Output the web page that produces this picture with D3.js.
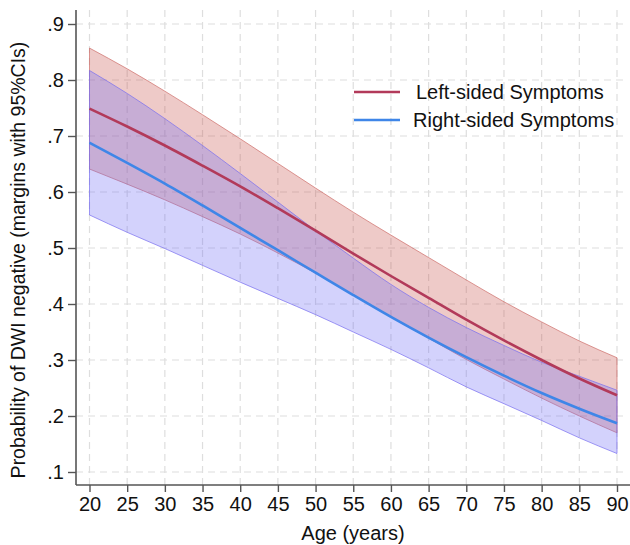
<!DOCTYPE html>
<html><head><meta charset="utf-8">
<script src="https://cdn.jsdelivr.net/npm/d3@7"></script>
<style>body{margin:0;background:#fff}svg{display:block}</style>
</head><body>
<svg id="c" width="630" height="545"></svg>
<script>
const ages = [20,25,30,35,40,45,50,55,60,65,70,75,80,85,90];
const leftMargin = [.749,.717,.683,.647,.610,.571,.531,.490,.450,.411,.372,.335,.300,.267,.237];
const leftUpper  = [.857,.820,.780,.738,.695,.651,.607,.564,.523,.483,.443,.404,.368,.334,.304];
const leftLower  = [.641,.614,.586,.556,.525,.491,.455,.416,.377,.339,.301,.266,.232,.200,.170];
const rightMargin = [.688,.652,.615,.576,.536,.496,.456,.416,.377,.340,.305,.272,.241,.213,.187];
const rightUpper  = [.817,.776,.731,.683,.633,.582,.531,.482,.435,.394,.358,.326,.296,.271,.246];
const rightLower  = [.559,.528,.499,.469,.439,.410,.381,.350,.319,.286,.252,.222,.192,.161,.133];
const yTicks = [.1,.2,.3,.4,.5,.6,.7,.8,.9];
const yTickLabels = [".1",".2",".3",".4",".5",".6",".7",".8",".9"];
const xTicks = ages;
const seriesNames = ["Left-sided Symptoms","Right-sided Symptoms"];
const yTitle = "Probability of DWI negative (margins with 95%CIs)";
const xTitle = "Age (years)";

const font = "'Liberation Sans', Arial, Helvetica, sans-serif";
const svg = d3.select("#c");
const x = d3.scaleLinear().domain([20,90]).range([89.5,617]);
const y = d3.scaleLinear().domain([.1,.9]).range([472,24]);
const axisX0 = 76, axisY0 = 485;

// grid
const g = svg.append("g");
g.selectAll("line.hg").data(yTicks).join("line")
  .attr("x1",axisX0).attr("x2",628).attr("y1",d=>y(d)).attr("y2",d=>y(d))
  .attr("stroke","#dedede").attr("stroke-width",1.2).attr("stroke-dasharray","7,5");
g.selectAll("line.vg").data(xTicks).join("line")
  .attr("x1",d=>x(d)).attr("x2",d=>x(d)).attr("y1",10).attr("y2",axisY0)
  .attr("stroke","#dedede").attr("stroke-width",1.2).attr("stroke-dasharray","7,5");

const mk = (lo,hi)=>ages.map((a,i)=>({a,lo:lo[i],hi:hi[i]}));
const area = d3.area().x(d=>x(d.a)).y0(d=>y(d.lo)).y1(d=>y(d.hi)).curve(d3.curveMonotoneX);
const line = d3.line().x(d=>x(d.a)).y(d=>y(d.v)).curve(d3.curveMonotoneX);

svg.append("path").datum(mk(leftLower,leftUpper)).attr("d",area)
  .attr("fill","rgb(200,80,72)").attr("fill-opacity",0.3)
  .attr("stroke","rgb(205,110,105)").attr("stroke-opacity",0.7).attr("stroke-width",1);
svg.append("path").datum(mk(rightLower,rightUpper)).attr("d",area)
  .attr("fill","rgb(110,105,245)").attr("fill-opacity",0.3)
  .attr("stroke","rgb(120,110,240)").attr("stroke-opacity",0.7).attr("stroke-width",1);

svg.append("path").datum(ages.map((a,i)=>({a,v:leftMargin[i]}))).attr("d",line)
  .attr("fill","none").attr("stroke","#b23a5a").attr("stroke-width",2.6);
svg.append("path").datum(ages.map((a,i)=>({a,v:rightMargin[i]}))).attr("d",line)
  .attr("fill","none").attr("stroke","#3f86e8").attr("stroke-width",2.6);

// axes
const yAxis = d3.axisLeft(y).tickValues(yTicks).tickFormat((d,i)=>yTickLabels[i]).tickSize(8).tickPadding(4);
const ya = svg.append("g").attr("transform",`translate(${axisX0},0)`).call(yAxis);
ya.select(".domain").attr("d",`M0,10V${axisY0}`);
const xAxis = d3.axisBottom(x).tickValues(xTicks).tickFormat(d3.format("d")).tickSize(7).tickPadding(5);
const xa = svg.append("g").attr("transform",`translate(0,${axisY0})`).call(xAxis);
xa.select(".domain").attr("d",`M${axisX0},0H630`);
[ya,xa].forEach(a=>{
  a.selectAll(".domain").attr("stroke","#555").attr("stroke-width",1.6);
  a.selectAll(".tick line").attr("stroke","#555").attr("stroke-width",1.4);
  a.selectAll("text").attr("font-family",font).attr("font-size",20).attr("fill","#111");
});

svg.append("text").attr("x",353).attr("y",540).attr("text-anchor","middle")
  .attr("font-family",font).attr("font-size",20).attr("fill","#111").text(xTitle);
svg.append("text").attr("transform","translate(25,260) rotate(-90)").attr("text-anchor","middle")
  .attr("font-family",font).attr("font-size",19.5).attr("fill","#111").text(yTitle);

// legend
const legColors = ["#b23a5a","#3f86e8"];
const lg = svg.append("g");
seriesNames.forEach((n,i)=>{
  const yy = 92 + i*28;
  lg.append("line").attr("x1",354).attr("x2",400).attr("y1",yy).attr("y2",yy)
    .attr("stroke",legColors[i]).attr("stroke-width",2.6);
  lg.append("text").attr("x",i===0?416:413).attr("y",yy+7).attr("font-family",font)
    .attr("font-size",20).attr("fill","#111").text(n);
});
</script>
</body></html>
